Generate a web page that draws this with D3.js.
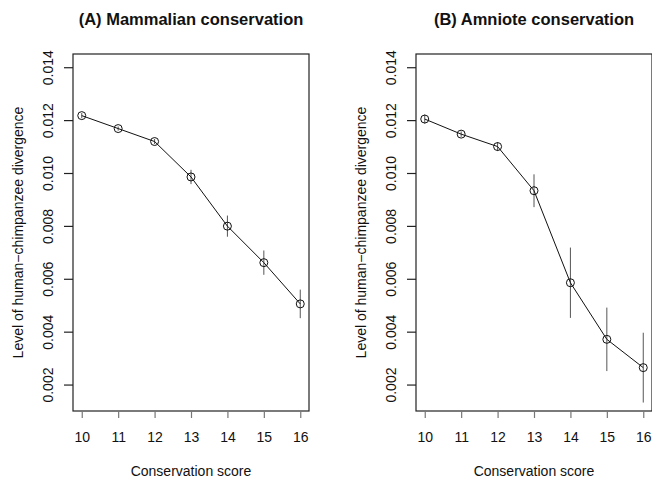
<!DOCTYPE html>
<html>
<head>
<meta charset="utf-8">
<script src="https://cdn.jsdelivr.net/npm/d3@7"></script>
<style>
  body { margin: 0; background: #fff; }
  text { font-family: "Liberation Sans", Arial, sans-serif; fill: #111; }
</style>
</head>
<body>
<div id="chart"></div>
<script>
// data
var scores = [10, 11, 12, 13, 14, 15, 16];
var mammalMean = [0.01217, 0.01168, 0.01119, 0.00985, 0.00799, 0.00661, 0.00505];
var mammalErr = [0.00010, 0.00008, 0.00010, 0.00027, 0.00040, 0.00046, 0.00054];
var amnioteMean = [0.01204, 0.01147, 0.01100, 0.00933, 0.00585, 0.00371, 0.00264];
var amnioteErr = [0.00017, 0.00010, 0.00017, 0.00062, 0.00133, 0.00120, 0.00132];
var yTicks = [0.002, 0.004, 0.006, 0.008, 0.010, 0.012, 0.014];
var titles = ["(A) Mammalian conservation", "(B) Amniote conservation"];

var width = 652, height = 479;
var svg = d3.select("#chart").append("svg")
    .attr("width", width)
    .attr("height", height);

function drawPanel(left, title, means, errs) {
    var boxW = 236, top = 54, bottom = 411;
    var x = d3.scaleLinear().domain([9.76, 16.24]).range([left, left + boxW]);
    var y = d3.scaleLinear().domain([0.001, 0.0145]).range([bottom, top]);
    var g = svg.append("g");

    // box
    g.append("rect")
        .attr("x", left).attr("y", top)
        .attr("width", boxW).attr("height", bottom - top)
        .attr("fill", "none").attr("stroke", "#222").attr("stroke-width", 1.2);

    // y axis
    var yAxis = d3.axisLeft(y).tickValues(yTicks).tickSize(9).tickFormat(d3.format(".3f"));
    var ya = g.append("g").attr("transform", "translate(" + left + ",0)").call(yAxis);
    ya.select(".domain").remove();
    ya.selectAll(".tick line").attr("stroke", "#222").attr("stroke-width", 1.2);
    ya.selectAll(".tick text")
        .attr("x", 0).attr("dy", null)
        .attr("transform", "translate(-20,0) rotate(-90)")
        .attr("text-anchor", "middle")
        .style("font-size", "14px");

    // x axis
    var xAxis = d3.axisBottom(x).tickValues(scores).tickSize(7).tickFormat(d3.format("d"));
    var xa = g.append("g").attr("transform", "translate(0," + bottom + ")").call(xAxis);
    xa.select(".domain").remove();
    xa.selectAll(".tick line").attr("stroke", "#777").attr("stroke-width", 1.2);
    xa.selectAll(".tick text")
        .attr("y", 31).attr("dy", null)
        .style("font-size", "14px");
    ya.attr("font-family", null).attr("font-size", null);
    xa.attr("font-family", null).attr("font-size", null);

    // labels
    g.append("text")
        .attr("x", left + boxW / 2).attr("y", 476)
        .attr("text-anchor", "middle")
        .style("font-size", "14px")
        .text("Conservation score");
    g.append("text")
        .attr("transform", "translate(" + (left - 50) + "," + ((top + bottom) / 2) + ") rotate(-90)")
        .attr("text-anchor", "middle")
        .style("font-size", "14px")
        .text("Level of human\u2212chimpanzee divergence");
    g.append("text")
        .attr("x", left + boxW / 2).attr("y", 25)
        .attr("text-anchor", "middle")
        .style("font-size", "16.5px").style("font-weight", "bold")
        .text(title);

    var pts = scores.map(function (s, i) {
        return { s: s, m: means[i], e: errs[i] };
    });

    // error bars
    g.selectAll("line.err").data(pts).enter().append("line")
        .attr("class", "err")
        .attr("x1", function (d) { return x(d.s); })
        .attr("x2", function (d) { return x(d.s); })
        .attr("y1", function (d) { return y(d.m - d.e); })
        .attr("y2", function (d) { return y(d.m + d.e); })
        .attr("stroke", "#555").attr("stroke-width", 1);

    // line
    var line = d3.line()
        .x(function (d) { return x(d.s); })
        .y(function (d) { return y(d.m); });
    g.append("path").datum(pts)
        .attr("d", line)
        .attr("fill", "none").attr("stroke", "#111").attr("stroke-width", 1);

    // points
    g.selectAll("circle").data(pts).enter().append("circle")
        .attr("cx", function (d) { return x(d.s); })
        .attr("cy", function (d) { return y(d.m); })
        .attr("r", 4)
        .attr("fill", "none").attr("stroke", "#111").attr("stroke-width", 1);
}

drawPanel(73, titles[0], mammalMean, mammalErr);
drawPanel(416, titles[1], amnioteMean, amnioteErr);
</script>
</body>
</html>
